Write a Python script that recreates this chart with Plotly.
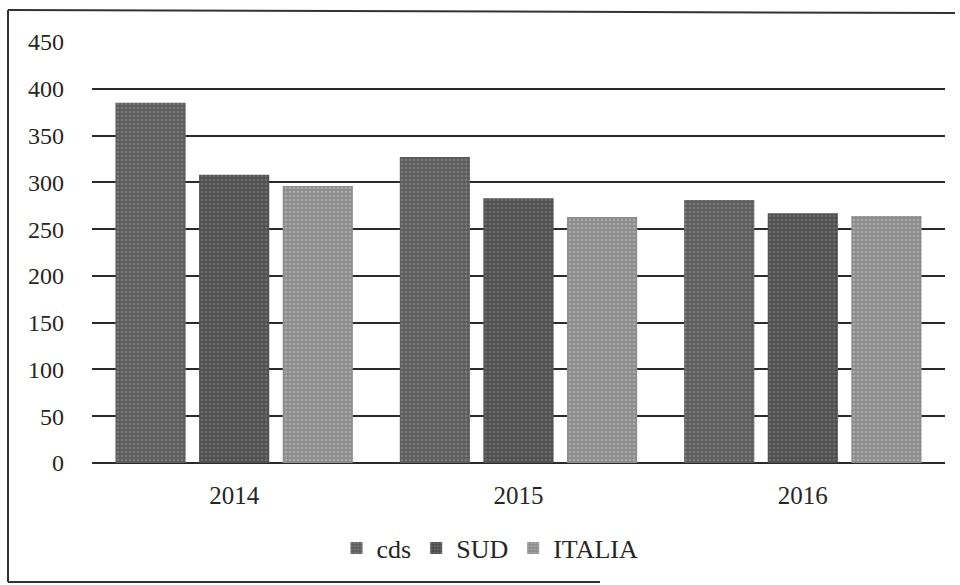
import plotly.graph_objects as go

# Chart data
years = ["2014", "2015", "2016"]
cds = [385, 327, 281]
sud = [308, 283, 267]
italia = [296, 263, 264]
y_ticks = [0, 50, 100, 150, 200, 250, 300, 350, 400, 450]

W, H = 960, 585
ML, MR, MT, MB = 92, 15, 42, 122
PW, PH = W - ML - MR, H - MT - MB

FONT = "Liberation Serif"
TEXT = "#262626"

series = [
    ("cds", cds, "#5c5c5c", "#9a9a9a"),
    ("SUD", sud, "#4f4f4f", "#8a8a8a"),
    ("ITALIA", italia, "#8c8c8c", "#c6c6c6"),
]

fig = go.Figure()
for name, vals, bg, fg in series:
    fig.add_trace(go.Bar(
        name=name, x=years, y=vals,
        marker=dict(
            color=bg,
            line=dict(width=0),
            pattern=dict(shape=".", bgcolor=bg, fgcolor=fg, size=4, solidity=0.35),
        ),
    ))


def px_x(x):
    return (x - ML) / PW


def px_y(y):
    return (H - MB - y) / PH


# page frame: left, top and bottom rules
frame = [
    dict(x0=px_x(8), x1=px_x(8), y0=px_y(582), y1=px_y(10)),
    dict(x0=px_x(8), x1=px_x(955), y0=px_y(10), y1=px_y(13)),
    dict(x0=px_x(8), x1=px_x(600), y0=px_y(582), y1=px_y(582)),
]
shapes = [dict(type="line", xref="paper", yref="paper", line=dict(color="#333333", width=2), **f)
          for f in frame]

fig.update_layout(
    width=W, height=H,
    margin=dict(l=ML, r=MR, t=MT, b=MB),
    paper_bgcolor="white", plot_bgcolor="white",
    barmode="group", bargap=0.118, bargroupgap=0.16,
    font=dict(family=FONT, size=24, color=TEXT),
    shapes=shapes,
    showlegend=True,
    legend=dict(
        orientation="h", x=px_x(490), xanchor="center", y=px_y(548), yanchor="middle",
        font=dict(family=FONT, size=26, color=TEXT),
        tracegroupgap=0, itemsizing="constant",
    ),
    xaxis=dict(
        showgrid=False, showline=False, ticks="",
        tickfont=dict(family=FONT, size=25, color=TEXT),
        ticklabelstandoff=15,
    ),
    yaxis=dict(
        range=[0, 450], tickvals=y_ticks,
        showgrid=True, gridcolor="#2a2a2a", gridwidth=1.6,
        zeroline=True, zerolinecolor="#2a2a2a", zerolinewidth=1.8,
        showline=False, ticks="",
        tickfont=dict(family=FONT, size=24, color=TEXT),
        ticklabelstandoff=27,
    ),
)

fig.write_html("out.html")
